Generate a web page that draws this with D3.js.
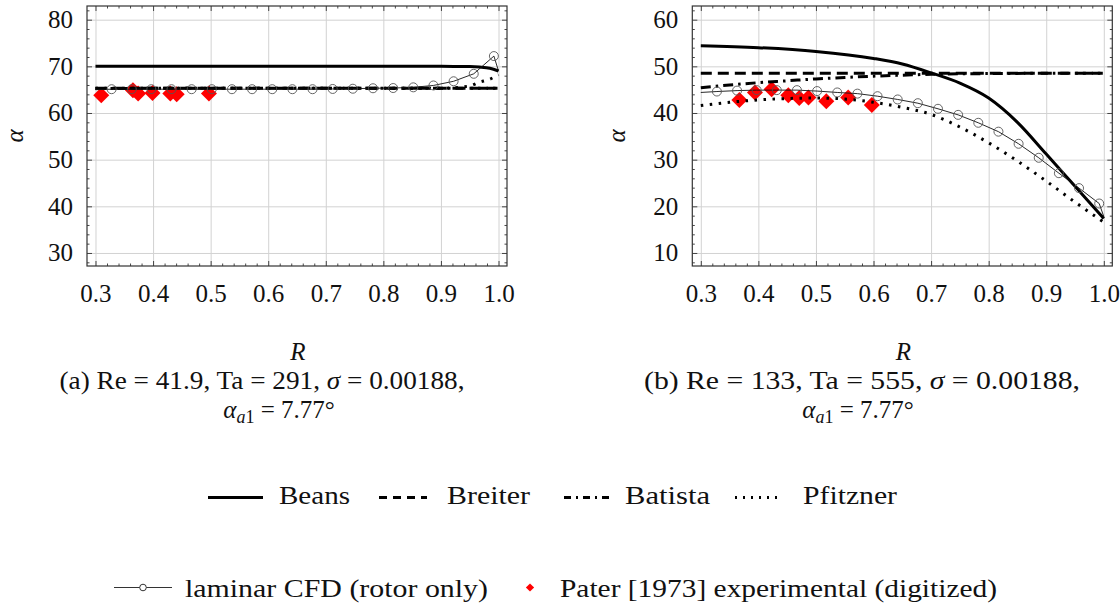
<!DOCTYPE html>
<html>
<head>
<meta charset="utf-8">
<script src="https://cdn.jsdelivr.net/npm/d3@7"></script>
<style>
  body { margin: 0; background: #fff; }
  svg text { font-family: "Liberation Serif", "DejaVu Serif", serif !important; }
</style>
</head>
<body>
<svg id="fig" width="1120" height="606"></svg>
<script>
// ---- axis ticks ----
const rTicks = [0.3, 0.4, 0.5, 0.6, 0.7, 0.8, 0.9, 1.0];
const alphaTicksA = [30, 40, 50, 60, 70, 80];
const alphaTicksB = [10, 20, 30, 40, 50, 60];

// ---- panel (a): Re = 41.9, Ta = 291 ----
const beansR_a    = [0.30, 0.60, 0.90, 0.95, 0.967, 0.985, 1.00];
const beansA_a    = [70.0, 70.0, 70.0, 69.95, 69.85, 69.6, 69.0];
const breiterR_a  = [0.30, 0.50, 0.70, 0.90, 1.00];
const breiterA_a  = [65.3, 65.3, 65.3, 65.3, 65.3];
const batistaR_a  = [0.30, 0.50, 0.70, 0.90, 1.00];
const batistaA_a  = [65.25, 65.3, 65.3, 65.3, 65.3];
const pfitznerR_a = [0.30, 0.60, 0.90, 0.95, 0.967, 0.984, 1.00];
const pfitznerA_a = [65.3, 65.3, 65.3, 65.8, 66.6, 67.2, 68.2];
const cfdR_a = [0.300, 0.328, 0.363, 0.397, 0.432, 0.467, 0.502, 0.537, 0.572, 0.607, 0.642,
                0.677, 0.712, 0.747, 0.782, 0.817, 0.852, 0.887, 0.922, 0.957, 0.992, 1.000];
const cfdA_a = [65.0, 65.1, 65.1, 65.1, 65.1, 65.1, 65.1, 65.1, 65.1, 65.1, 65.1,
                65.1, 65.15, 65.2, 65.3, 65.35, 65.5, 65.9, 66.8, 68.4, 72.2, 69.0];
const expR_a = [0.310, 0.365, 0.374, 0.399, 0.430, 0.441, 0.497];
const expA_a = [63.8, 64.9, 64.2, 64.3, 64.2, 64.0, 64.2];

// ---- panel (b): Re = 133, Ta = 555 ----
const beansR_b    = [0.30, 0.40, 0.50, 0.60, 0.65, 0.70, 0.75, 0.80, 0.85, 0.90, 0.95, 1.00];
const beansA_b    = [54.4, 54.0, 53.2, 51.7, 50.5, 48.6, 46.4, 43.2, 38.0, 31.2, 24.3, 17.4];
const breiterR_b  = [0.30, 0.50, 0.70, 0.90, 1.00];
const breiterA_b  = [48.5, 48.5, 48.5, 48.5, 48.5];
const batistaR_b  = [0.30, 0.35, 0.40, 0.45, 0.50, 0.55, 0.60, 0.65, 0.70, 0.80, 0.90, 1.00];
const batistaA_b  = [45.4, 46.0, 46.5, 46.9, 47.3, 47.6, 47.9, 48.1, 48.3, 48.45, 48.5, 48.5];
const pfitznerR_b = [0.30, 0.35, 0.40, 0.45, 0.50, 0.55, 0.60, 0.65, 0.70, 0.75, 0.80, 0.85, 0.90, 0.95, 1.00];
const pfitznerA_b = [41.6, 42.3, 42.8, 43.1, 43.2, 43.0, 42.3, 41.2, 39.7, 37.0, 33.6, 29.7, 25.4, 20.9, 16.6];
const cfdR_b = [0.300, 0.328, 0.363, 0.397, 0.432, 0.467, 0.502, 0.537, 0.572, 0.607, 0.642,
                0.677, 0.712, 0.747, 0.782, 0.817, 0.852, 0.887, 0.922, 0.957, 0.992, 1.000];
const cfdA_b = [44.4, 44.6, 44.8, 44.9, 44.9, 44.9, 44.7, 44.4, 44.15, 43.6, 42.9,
                42.1, 40.9, 39.6, 37.9, 36.0, 33.4, 30.4, 27.1, 23.9, 20.6, 17.8];
const expR_b = [0.367, 0.394, 0.423, 0.452, 0.471, 0.487, 0.518, 0.556, 0.597];
const expA_b = [42.8, 44.4, 45.1, 43.8, 43.2, 43.3, 42.5, 43.3, 41.7];

// ---- legend entries ----
const modelNames = ["Beans", "Breiter", "Batista", "Pfitzner"];
const cfdName = "laminar CFD (rotor only)";
const expName = "Pater [1973] experimental (digitized)";

const FAMILY = '"Liberation Serif", "DejaVu Serif", serif';
const FONT = 25;

// ---- styles ----
const modelStyle = {
  Beans:    { width: 3, dash: null },
  Breiter:  { width: 3, dash: "11,6" },
  Batista:  { width: 3, dash: "10,5,2.5,5" },
  Pfitzner: { width: 3, dash: "2.5,6.5" }
};

const svg = d3.select("#fig").attr("font-family", FAMILY);
const zip = (xs, ys) => xs.map((v, i) => [v, ys[i]]);

function minorBetween(lo, hi, step, majors) {
  const out = [];
  for (let v = lo; v <= hi + 1e-9; v += step) {
    const r = Math.round(v * 1000) / 1000;
    if (!majors.some(m => Math.abs(m - r) < 1e-6)) out.push(r);
  }
  return out;
}

function drawPanel(cfg) {
  const W = 420, H = 260;
  const g = svg.append("g").attr("transform", `translate(${cfg.left},6)`);
  const x = d3.scaleLinear().domain([0.28524, 1.01476]).range([0, W]);
  const y = d3.scaleLinear().domain(cfg.yDomain).range([H, 0]);

  const clipId = "clip-" + cfg.id;
  g.append("clipPath").attr("id", clipId).append("rect").attr("width", W).attr("height", H);

  // grid
  const grid = g.append("g");
  grid.append("g").call(d3.axisBottom(x).tickValues(rTicks).tickSize(H).tickFormat(""));
  grid.append("g").call(d3.axisLeft(y).tickValues(cfg.yTicks).tickSize(-W).tickFormat(""));
  grid.selectAll(".domain").remove();
  grid.selectAll("line").attr("stroke", "#d2d2d2").attr("stroke-width", 1);

  const plot = g.append("g").attr("clip-path", `url(#${clipId})`);

  // experimental points
  const diamond = d3.symbol().type(d3.symbolSquare).size(128);
  plot.append("g").selectAll("path")
    .data(zip(cfg.expR, cfg.expA)).join("path")
    .attr("d", diamond)
    .attr("transform", d => `translate(${x(d[0])},${y(d[1])}) rotate(45)`)
    .attr("fill", "#ff0000");

  // model curves
  const curve = d3.line().x(d => x(d[0])).y(d => y(d[1])).curve(d3.curveMonotoneX);
  cfg.models.forEach(m => {
    const st = modelStyle[m.name];
    plot.append("path")
      .datum(zip(m.r, m.a))
      .attr("d", curve)
      .attr("fill", "none")
      .attr("stroke", "#000")
      .attr("stroke-width", st.width)
      .attr("stroke-dasharray", st.dash);
  });

  // CFD line with circle markers (markers on interior samples)
  const lin = d3.line().x(d => x(d[0])).y(d => y(d[1]));
  const cfd = zip(cfg.cfdR, cfg.cfdA);
  plot.append("path").datum(cfd).attr("d", lin)
    .attr("fill", "none").attr("stroke", "#111").attr("stroke-width", 0.9);
  plot.append("g").selectAll("circle")
    .data(cfd.slice(1, -1)).join("circle")
    .attr("cx", d => x(d[0])).attr("cy", d => y(d[1])).attr("r", 4.5)
    .attr("fill", "none").attr("stroke", "#555").attr("stroke-width", 0.9);

  // ticks on all four sides
  const xMinor = minorBetween(0.3, 1.0, 0.02, rTicks);
  const yMinor = minorBetween(cfg.yMinorLo, cfg.yMinorHi, 2, cfg.yTicks);
  const axes = g.append("g");
  axes.append("g").attr("transform", `translate(0,${H})`)
    .call(d3.axisBottom(x).tickValues(rTicks).tickSizeInner(-5).tickSizeOuter(0)
      .tickPadding(18).tickFormat(d3.format(".1f")));
  axes.append("g").attr("transform", `translate(0,${H})`)
    .call(d3.axisBottom(x).tickValues(xMinor).tickSizeInner(-2.5).tickSizeOuter(0).tickFormat(""));
  axes.append("g")
    .call(d3.axisTop(x).tickValues(rTicks).tickSizeInner(-5).tickSizeOuter(0).tickFormat(""));
  axes.append("g")
    .call(d3.axisTop(x).tickValues(xMinor).tickSizeInner(-2.5).tickSizeOuter(0).tickFormat(""));
  axes.append("g")
    .call(d3.axisLeft(y).tickValues(cfg.yTicks).tickSizeInner(-5).tickSizeOuter(0).tickPadding(14));
  axes.append("g")
    .call(d3.axisLeft(y).tickValues(yMinor).tickSizeInner(-2.5).tickSizeOuter(0).tickFormat(""));
  axes.append("g").attr("transform", `translate(${W},0)`)
    .call(d3.axisRight(y).tickValues(cfg.yTicks).tickSizeInner(-5).tickSizeOuter(0).tickFormat(""));
  axes.append("g").attr("transform", `translate(${W},0)`)
    .call(d3.axisRight(y).tickValues(yMinor).tickSizeInner(-2.5).tickSizeOuter(0).tickFormat(""));
  axes.selectAll(".domain").remove();
  axes.selectAll("line").attr("stroke", "#333").attr("stroke-width", 0.9);
  axes.selectAll("g").attr("font-family", FAMILY).attr("font-size", FONT);
  axes.selectAll("text").attr("fill", "#111");

  // frame
  g.append("rect").attr("width", W).attr("height", H)
    .attr("fill", "none").attr("stroke", "#333").attr("stroke-width", 1.2);

  // axis titles
  g.append("text").attr("transform", `translate(${cfg.ylabX - cfg.left},${H / 2}) rotate(-90)`)
    .attr("text-anchor", "middle").attr("font-size", FONT).attr("font-style", "italic")
    .attr("fill", "#111").text("α");
  g.append("text").attr("x", W / 2 + 1).attr("y", 354)
    .attr("text-anchor", "middle").attr("font-size", FONT).attr("font-style", "italic")
    .attr("fill", "#111").text("R");

  // caption
  const cap = svg.append("g").attr("fill", "#111").attr("font-size", FONT);
  const l1 = cap.append("text").attr("x", cfg.capX).attr("y", 389).attr("text-anchor", "middle")
    .attr("textLength", cfg.capW).attr("lengthAdjust", "spacingAndGlyphs");
  l1.append("tspan").text(`(${cfg.id}) Re = ${cfg.re}, Ta = ${cfg.ta}, `);
  l1.append("tspan").attr("font-style", "italic").text("σ");
  l1.append("tspan").text(" = 0.00188,");
  const l2 = cap.append("text").attr("x", cfg.cap2X).attr("y", 418).attr("text-anchor", "middle");
  l2.append("tspan").attr("font-style", "italic").text("α");
  l2.append("tspan").attr("font-style", "italic").attr("font-size", FONT * 0.72).attr("dy", 5).text("a");
  l2.append("tspan").attr("font-size", FONT * 0.72).text("1");
  l2.append("tspan").attr("dy", -5).text(" = 7.77°");
}

drawPanel({
  id: "a", left: 87, yDomain: [27.21, 82.93], yTicks: alphaTicksA, yMinorLo: 28, yMinorHi: 82,
  ylabX: 23, capX: 262, capW: 405, cap2X: 279, re: "41.9", ta: "291",
  models: [
    { name: "Beans", r: beansR_a, a: beansA_a },
    { name: "Breiter", r: breiterR_a, a: breiterA_a },
    { name: "Batista", r: batistaR_a, a: batistaA_a },
    { name: "Pfitzner", r: pfitznerR_a, a: pfitznerA_a }
  ],
  cfdR: cfdR_a, cfdA: cfdA_a, expR: expR_a, expA: expA_a
});
drawPanel({
  id: "b", left: 692.3, yDomain: [7.21, 62.93], yTicks: alphaTicksB, yMinorLo: 8, yMinorHi: 62,
  ylabX: 625, capX: 862, capW: 436, cap2X: 858, re: "133", ta: "555",
  models: [
    { name: "Beans", r: beansR_b, a: beansA_b },
    { name: "Breiter", r: breiterR_b, a: breiterA_b },
    { name: "Batista", r: batistaR_b, a: batistaA_b },
    { name: "Pfitzner", r: pfitznerR_b, a: pfitznerA_b }
  ],
  cfdR: cfdR_b, cfdA: cfdA_b, expR: expR_b, expA: expA_b
});

// ---- legend ----
const lg = svg.append("g").attr("font-size", FONT).attr("fill", "#111");
const legendModels = [
  { x0: 208, x1: 263, tx: 279, tw: 71,  dash: null },
  { x0: 379, x1: 427, tx: 447, tw: 83,  dash: "8,6" },
  { x0: 564, x1: 609, tx: 625, tw: 85,  dash: "7,5,2,5" },
  { x0: 735, x1: 783, tx: 803, tw: 94,  dash: "2,6" }
];
modelNames.forEach((name, i) => {
  const p = legendModels[i];
  lg.append("line").attr("x1", p.x0).attr("x2", p.x1).attr("y1", 497.5).attr("y2", 497.5)
    .attr("stroke", "#000").attr("stroke-width", 3).attr("stroke-dasharray", p.dash);
  lg.append("text").attr("x", p.tx).attr("y", 503.5)
    .attr("textLength", p.tw).attr("lengthAdjust", "spacingAndGlyphs").text(name);
});
lg.append("line").attr("x1", 114).attr("x2", 172).attr("y1", 587.5).attr("y2", 587.5)
  .attr("stroke", "#333").attr("stroke-width", 1);
lg.append("circle").attr("cx", 143).attr("cy", 587.5).attr("r", 3.3)
  .attr("fill", "#fff").attr("stroke", "#333").attr("stroke-width", 1);
lg.append("text").attr("x", 185).attr("y", 596.5)
  .attr("textLength", 303).attr("lengthAdjust", "spacingAndGlyphs").text(cfdName);
lg.append("path").attr("d", d3.symbol().type(d3.symbolSquare).size(34))
  .attr("transform", "translate(530,587.5) rotate(45)").attr("fill", "#ff0000");
lg.append("text").attr("x", 560).attr("y", 596.5)
  .attr("textLength", 437).attr("lengthAdjust", "spacingAndGlyphs").text(expName);
</script>
</body>
</html>
